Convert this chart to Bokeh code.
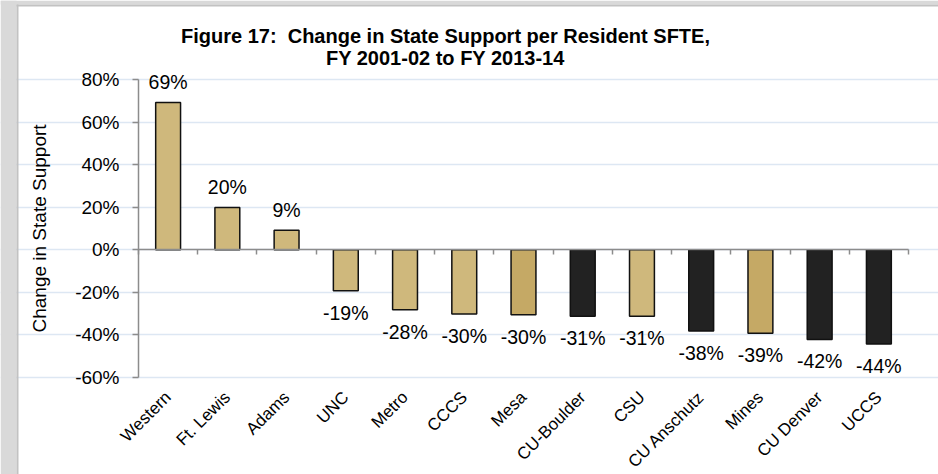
from math import pi
from bokeh.plotting import figure
from bokeh.models import (ColumnDataSource, FixedTicker, LinearAxis, LabelSet,
                          Label, Range1d, BoxAnnotation)
from bokeh.core.properties import value
from bokeh.embed import file_html
from bokeh.resources import INLINE

# ---------------- data ----------------
title_lines = ["Figure 17:\u00a0 Change in State Support per Resident SFTE,",
               "FY 2001-02 to FY 2013-14"]
y_axis_title = "Change in State Support"
categories = ["Western", "Ft. Lewis", "Adams", "UNC", "Metro", "CCCS", "Mesa",
              "CU-Boulder", "CSU", "CU Anschutz", "Mines", "CU Denver", "UCCS"]
values = [69.2, 19.9, 9.2, -19.3, -28.2, -30.2, -30.5, -31.2, -31.2, -38.1,
          -39.2, -42.1, -44.3]
value_labels = ["69%", "20%", "9%", "-19%", "-28%", "-30%", "-30%", "-31%",
                "-31%", "-38%", "-39%", "-42%", "-44%"]
groups = ["light", "light", "light", "light", "light", "light", "dark",
          "cu", "light", "cu", "dark", "cu", "cu"]
y_ticks = [-60, -40, -20, 0, 20, 40, 60, 80]
y_tick_labels = ["-60%", "-40%", "-20%", "0%", "20%", "40%", "60%", "80%"]

# ---------------- layout / styles ----------------
FONT = "Liberation Sans"
palette = {"light": "#cfb87c", "dark": "#c5a965", "cu": "#222222"}
AXIS_GRAY = "#8c8c8c"
GRID = "#dde7f3"
PAGE_GRAY = "#d9d9d9"
PANEL_EDGE = "#c2c2c2"

FIG_W, FIG_H = 938, 474
PLOT_LEFT, PLOT_RIGHT = 138, 908     # pixel columns of the plotting area
PLOT_TOP, PLOT_BOTTOM = 79, 377      # pixel rows of 80% and -60%
TITLE_COL = 445                      # centre column of the title
TITLE_ROWS = [35, 57]                # anchor rows of the two title lines
GRAY_LEFT, GRAY_TOP, EDGE = 16, 4, 2 # page surround decoration widths

n = len(categories)
centers = [i + 0.5 for i in range(n)]
boundaries = list(range(n + 1))
Y_MIN, Y_MAX = y_ticks[0], y_ticks[-1]

px_x = (PLOT_RIGHT - PLOT_LEFT) / n
x_start = -PLOT_LEFT / px_x
x_end = n + (FIG_W - PLOT_RIGHT) / px_x
px_y = (PLOT_BOTTOM - PLOT_TOP) / (Y_MAX - Y_MIN)
y_end = Y_MAX + PLOT_TOP / px_y
y_start = Y_MIN - (FIG_H - PLOT_BOTTOM) / px_y


def col(px):
    return x_start + px / px_x


def rowy(px):
    return y_end - px / px_y


src = ColumnDataSource(dict(
    x=centers,
    val=values,
    lab=value_labels,
    color=[palette[g] for g in groups],
    off=[13 if v >= 0 else -29 for v in values],
))

p = figure(x_range=Range1d(x_start, x_end), y_range=Range1d(y_start, y_end),
           width=FIG_W, height=FIG_H, output_backend="svg", toolbar_location=None,
           min_border_left=0, min_border_right=0, min_border_top=0,
           min_border_bottom=0)
p.outline_line_color = None
p.background_fill_color = "white"
p.border_fill_color = "white"
p.xgrid.grid_line_color = None

# grey page surround with the panel's edge
for kw, colr in [
    (dict(bottom=rowy(GRAY_TOP)), PAGE_GRAY),
    (dict(right=col(GRAY_LEFT)), PAGE_GRAY),
    (dict(left=col(GRAY_LEFT), bottom=rowy(GRAY_TOP + EDGE), top=rowy(GRAY_TOP)), PANEL_EDGE),
    (dict(left=col(GRAY_LEFT), right=col(GRAY_LEFT + EDGE), top=rowy(GRAY_TOP)), PANEL_EDGE),
]:
    p.add_layout(BoxAnnotation(fill_color=colr, fill_alpha=1.0, line_color=None,
                               level="underlay", **kw))

p.vbar(x="x", top="val", bottom=0, width=0.42, fill_color="color",
       line_color="#111111", line_width=1.5, source=src)

# y axis, pinned to the left edge of the category area
yt = FixedTicker(ticks=y_ticks)
ya = p.yaxis[0]
ya.fixed_location = 0
ya.ticker = yt
ya.bounds = (Y_MIN, Y_MAX)
ya.major_label_overrides = {t: l for t, l in zip(y_ticks, y_tick_labels)}
ya.axis_label = y_axis_title
ya.axis_label_text_font = FONT
ya.axis_label_text_font_size = "19px"
ya.axis_label_text_font_style = "normal"
ya.axis_label_text_color = "#000000"
ya.axis_label_standoff = 22
ya.major_label_text_font = FONT
ya.major_label_text_font_size = "19px"
ya.major_label_text_color = "#000000"
ya.major_label_standoff = 13
ya.axis_line_color = AXIS_GRAY
ya.axis_line_width = 1.5
ya.major_tick_line_color = AXIS_GRAY
ya.major_tick_line_width = 1.5
ya.major_tick_out = 6
ya.major_tick_in = 0
ya.minor_tick_line_color = None

p.ygrid.ticker = yt
p.ygrid.grid_line_color = GRID
p.ygrid.grid_line_width = 1.5
p.ygrid.bounds = (0, n)

# category axis (labels only), pinned to the bottom of the value scale
xa = p.xaxis[0]
xa.fixed_location = Y_MIN
xa.ticker = FixedTicker(ticks=centers)
xa.major_label_overrides = {c: name for c, name in zip(centers, categories)}
xa.axis_line_color = None
xa.major_tick_line_color = None
xa.minor_tick_line_color = None
xa.major_label_orientation = pi / 4
xa.major_label_text_font = FONT
xa.major_label_text_font_size = "17px"
xa.major_label_text_color = "#000000"
xa.major_label_standoff = 11

# zero line axis with ticks between categories
zero_axis = LinearAxis(ticker=FixedTicker(ticks=boundaries), fixed_location=0,
                       bounds=(0, n))
zero_axis.axis_line_color = AXIS_GRAY
zero_axis.axis_line_width = 1.5
zero_axis.major_tick_line_color = AXIS_GRAY
zero_axis.major_tick_line_width = 1.5
zero_axis.major_tick_out = 5
zero_axis.major_tick_in = 0
zero_axis.minor_tick_line_color = None
zero_axis.major_label_text_font_size = "0px"
zero_axis.major_label_text_alpha = 0
p.add_layout(zero_axis, "below")

# value labels
labels = LabelSet(x="x", y="val", text="lab", y_offset="off", source=src,
                  text_align="center", text_baseline="alphabetic",
                  text_font=value(FONT), text_font_size=value("19.5px"),
                  text_color=value("#000000"))
p.add_layout(labels)

# title (two centred lines), placed through the plot's own scales
for txt, r in zip(title_lines, TITLE_ROWS):
    p.add_layout(Label(x=col(TITLE_COL), y=rowy(r),
                       text=txt, text_align="center", text_baseline="alphabetic",
                       text_font=FONT, text_font_size="20px",
                       text_font_style="bold", text_color="#000000"))

open("out.html", "w").write(file_html(p, INLINE))
